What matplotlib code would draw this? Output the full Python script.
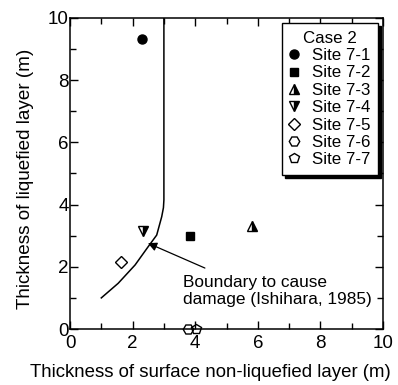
import matplotlib
matplotlib.use("Agg")
import matplotlib.pyplot as plt
from matplotlib.ticker import MultipleLocator

plt.rcParams['font.family'] = ['Liberation Sans', 'DejaVu Sans']

sites = ["Site 7-1", "Site 7-2", "Site 7-3", "Site 7-4", "Site 7-5", "Site 7-6", "Site 7-7"]
x_vals = [2.30, 3.83, 5.81, 2.33, 1.63, 3.77, 4.03]
y_vals = [9.32, 3.00, 3.31, 3.15, 2.17, 0.0, 0.0]
markers = ["o", "s", "^", "v", "D", "H", "p"]
fills = ["full", "full", "right", "right", "none", "none", "none"]
sizes = [6.5, 6, 7, 7, 6.5, 7.5, 7.5]

boundary_x = [1.0, 1.54, 2.08, 2.50, 2.77, 2.93, 2.985, 3.0, 3.0]
boundary_y = [1.0, 1.47, 2.06, 2.65, 3.02, 3.61, 3.90, 4.15, 10.0]

fig = plt.figure(figsize=(3.98, 3.85), dpi=100)
ax = fig.add_axes([70/398, 1-329/385, 313/398, 311/385])

ax.plot(boundary_x, boundary_y, color="black", lw=1.1)

handles = []
for s, x, y, m, f, ms in zip(sites, x_vals, y_vals, markers, fills, sizes):
    h, = ax.plot([x], [y], linestyle="none", marker=m, markersize=ms,
                 fillstyle=f, color="black", markerfacecolor="black" if f != "none" else "white",
                 markerfacecoloralt="white", markeredgecolor="black", markeredgewidth=1.0,
                 label=s, clip_on=False, zorder=3)
    handles.append(h)

ax.annotate("", xy=(2.49, 2.76), xytext=(4.31, 1.96),
            arrowprops=dict(arrowstyle="-|>", color="black", lw=0.9, mutation_scale=13,
                            shrinkA=0, shrinkB=0))
ax.text(3.61, 1.22, "Boundary to cause\ndamage (Ishihara, 1985)", fontsize=12.4,
        ha="left", va="center", linespacing=1.1)

ax.set_xlim(0, 10)
ax.set_ylim(0, 10)
ax.xaxis.set_major_locator(MultipleLocator(2))
ax.xaxis.set_minor_locator(MultipleLocator(1))
ax.yaxis.set_major_locator(MultipleLocator(2))
ax.yaxis.set_minor_locator(MultipleLocator(1))
ax.tick_params(which="both", direction="in", top=True, right=True, labelsize=13.5, width=1)
ax.tick_params(axis="x", pad=4)
ax.tick_params(axis="y", pad=1)
ax.tick_params(which="major", length=6)
ax.tick_params(which="minor", length=4)
for sp in ax.spines.values():
    sp.set_linewidth(1.1)

ax.set_xlabel("Thickness of surface non-liquefied layer (m)", fontsize=13.4)
ax.xaxis.set_label_coords((210 - 70) / 313, -0.112)
ax.set_ylabel("Thickness of liquefied layer (m)", fontsize=13.6)
ax.yaxis.set_label_coords((34 - 70) / 313, (329 - 179) / 311)

leg = ax.legend(handles=handles, title="Case 2", loc="upper right", fontsize=12.2,
                title_fontsize=12.2, fancybox=False, edgecolor="black", framealpha=1,
                shadow={"color": "black", "alpha": 1}, borderaxespad=0.3,
                handletextpad=0.8, labelspacing=0.14, handlelength=0.5, borderpad=0.45,
                markerscale=1.0)
leg.get_frame().set_linewidth(1.0)

fig.savefig("out.png", dpi=100)
